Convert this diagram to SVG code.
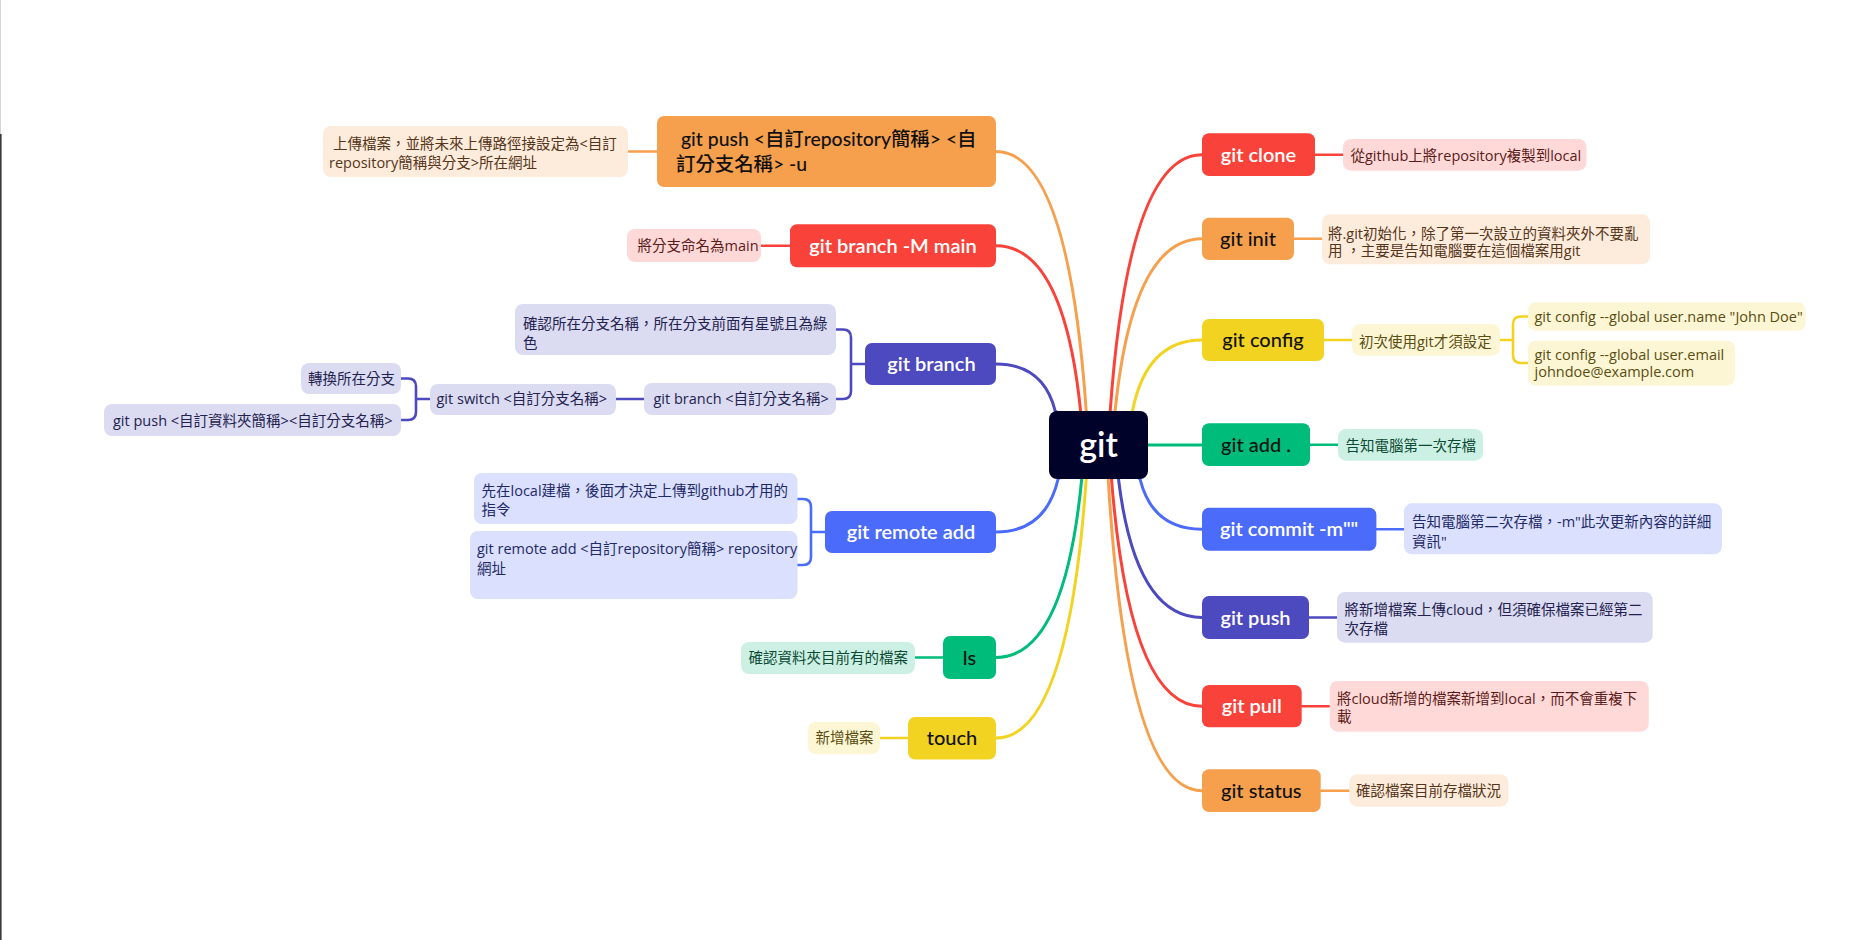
<svg xmlns="http://www.w3.org/2000/svg" width="1864" height="940" viewBox="0 0 1864 940">
<style>
.bg{fill:#ffffff}
.mt{font-family:Lato,"Noto Sans CJK TC",sans-serif;font-size:20px;text-anchor:middle}
.mtl{font-family:Lato,"Noto Sans CJK TC",sans-serif;font-size:19.4px;font-weight:500;fill:#111}
.w{fill:#ffffff;font-weight:600}
.k{fill:#111111;font-weight:500}
.lt{font-family:"Open Sans","Noto Sans CJK TC",sans-serif;font-size:14.5px}
.conn path{fill:none;stroke-width:3;stroke-linecap:round}
.sub path{fill:none;stroke-width:2.6;stroke-linecap:round;stroke-linejoin:round}
.red{fill:#F9423A}.orange{fill:#F6A04D}.yellow{fill:#F3D321}.green{fill:#00BC7B}.blue{fill:#4B6BFB}.indigo{fill:#4D49BE}
.lred{fill:#FFD9D8}.lorange{fill:#FDEBDB}.lyellow{fill:#FDF6D4}.lgreen{fill:#CCF1E4}.lblue{fill:#DAE0FE}.lindigo{fill:#DBDBF2}
.tred{fill:#5b1c19}.torange{fill:#55361a}.tyellow{fill:#5a4d12}.tgreen{fill:#0c4a34}.tblue{fill:#1f2a66}.tindigo{fill:#23224f}
.sred{stroke:#F9423A}.sorange{stroke:#F6A04D}.syellow{stroke:#F3D321}.sgreen{stroke:#00BC7B}.sblue{stroke:#4B6BFB}.sindigo{stroke:#4D49BE}
</style>
<rect class="bg" x="0" y="0" width="1864" height="940"/>
<rect x="0" y="0" width="1" height="134" fill="#d4d4d4"/>
<rect x="0" y="134" width="1.6" height="806" fill="#3a3a3a"/>

<g id="connectors">
 <g class="conn">
  <path class="sorange" d="M1098,445 L1086.2,411 Q1068.2,151.5 996,151.5"/>
  <path class="sred" d="M1098,445 L1080.6,411 Q1063.7,245.8 996,245.8"/>
  <path class="sindigo" d="M1098,445 L1055.2,411 Q1043.4,364 996,364"/>
  <path class="sblue" d="M1098,445 L1058.1,479 Q1045.7,532 996,532"/>
  <path class="sgreen" d="M1098,445 L1081.7,479 Q1064.6,657.5 996,657.5"/>
  <path class="syellow" d="M1098,445 L1086.2,479 Q1068.2,738 996,738"/>
  <path class="sred" d="M1098,445 L1110.2,411 Q1128.6,154.7 1202,154.7"/>
  <path class="sorange" d="M1098,445 L1115.1,411 Q1132.5,238.8 1202,238.8"/>
  <path class="syellow" d="M1098,445 L1132.5,411 Q1146.5,340 1202,340"/>
  <path class="sgreen" d="M1098,445 H1202"/>
  <path class="sblue" d="M1098,445 L1140,479 Q1152.4,529.2 1202,529.2"/>
  <path class="sindigo" d="M1098,445 L1118.5,479 Q1135.2,617.5 1202,617.5"/>
  <path class="sred" d="M1098,445 L1111.5,479 Q1129.6,706.2 1202,706.2"/>
  <path class="sorange" d="M1098,445 L1108.2,479 Q1127,790.7 1202,790.7"/>
 </g>
 <g class="sub">
  <path class="sorange" d="M628,151.5 H657"/>
  <path class="sred" d="M761,245.8 H790"/>
  <path class="sindigo" d="M865,364 H851 M836,329.5 H843 Q851,329.5 851,337.5 V391 Q851,399 843,399 H836"/>
  <path class="sindigo" d="M616,399 H644"/>
  <path class="sindigo" d="M430,399 H416 M401,378.5 H408 Q416,378.5 416,386.5 V412 Q416,420 408,420 H401"/>
  <path class="sblue" d="M825,532 H811 M797,499 H803 Q811,499 811,507 V557 Q811,565 803,565 H797"/>
  <path class="sgreen" d="M915,657.5 H943"/>
  <path class="syellow" d="M880,738 H908"/>
  <path class="sred" d="M1315,154.7 H1343"/>
  <path class="sorange" d="M1294,238.8 H1322"/>
  <path class="syellow" d="M1324,340 H1352"/>
  <path class="syellow" d="M1500,340 H1513 M1528,316.5 H1521 Q1513,316.5 1513,324.5 V355 Q1513,363 1521,363 H1528"/>
  <path class="sgreen" d="M1310,444.7 H1338"/>
  <path class="sblue" d="M1376,529.2 H1404"/>
  <path class="sindigo" d="M1309,617.5 H1337"/>
  <path class="sred" d="M1302,706.2 H1330"/>
  <path class="sorange" d="M1321,790.7 H1349"/>
 </g>
</g>

<g id="n-git">
 <rect x="1049" y="411" width="99" height="68" rx="8" fill="#000229"/>
 <text x="1098.5" y="457" font-family="Lato,sans-serif" font-size="34" font-weight="600" fill="#ffffff" text-anchor="middle">git</text>
</g>

<!-- left side -->
<g id="n-git-push-u">
 <rect class="orange" x="657" y="116" width="339" height="71" rx="7"/>
 <text class="mtl" x="681" y="146">git push &lt;自訂repository簡稱&gt; &lt;自</text>
 <text class="mtl" x="676" y="171">訂分支名稱&gt; -u</text>
</g>
<g id="l-git-push-u">
 <rect class="lorange" x="323" y="126" width="305" height="51" rx="8"/>
 <text class="lt torange" x="333" y="148.5">上傳檔案，並將未來上傳路徑接設定為&lt;自訂</text>
 <text class="lt torange" x="329" y="168">repository簡稱與分支&gt;所在網址</text>
</g>

<g id="n-git-branch-M">
 <rect class="red" x="790" y="224.3" width="206" height="43" rx="7"/>
 <text class="mt w" x="893" y="252.8">git branch -M main</text>
</g>
<g id="l-git-branch-M">
 <rect class="lred" x="627" y="229" width="134" height="33" rx="8"/>
 <text class="lt tred" x="637.5" y="251">將分支命名為main</text>
</g>

<g id="n-git-branch">
 <rect class="indigo" x="865" y="343" width="131" height="42" rx="7"/>
 <text class="mt w" x="931.5" y="371">git branch</text>
</g>
<g id="l-branch-confirm">
 <rect class="lindigo" x="515" y="304" width="321" height="51" rx="8"/>
 <text class="lt tindigo" x="523" y="328.5">確認所在分支名稱，所在分支前面有星號且為綠</text>
 <text class="lt tindigo" x="523" y="347.5">色</text>
</g>
<g id="l-branch-name">
 <rect class="lindigo" x="644" y="383" width="192" height="32" rx="8"/>
 <text class="lt tindigo" x="653.5" y="404">git branch &lt;自訂分支名稱&gt;</text>
</g>
<g id="l-switch">
 <rect class="lindigo" x="430" y="384" width="186" height="31" rx="8"/>
 <text class="lt tindigo" x="436.5" y="404">git switch &lt;自訂分支名稱&gt;</text>
</g>
<g id="l-switch-desc">
 <rect class="lindigo" x="301" y="363" width="100" height="31" rx="8"/>
 <text class="lt tindigo" x="308" y="384">轉換所在分支</text>
</g>
<g id="l-switch-push">
 <rect class="lindigo" x="104" y="404" width="297" height="32" rx="8"/>
 <text class="lt tindigo" x="113" y="425.5">git push &lt;自訂資料夾簡稱&gt;&lt;自訂分支名稱&gt;</text>
</g>

<g id="n-git-remote-add">
 <rect class="blue" x="825" y="511" width="171" height="42" rx="7"/>
 <text class="mt w" x="911" y="539">git remote add</text>
</g>
<g id="l-remote-desc">
 <rect class="lblue" x="474" y="473" width="323.5" height="51" rx="8"/>
 <text class="lt tblue" x="481.5" y="496">先在local建檔，後面才決定上傳到github才用的</text>
 <text class="lt tblue" x="481.5" y="515">指令</text>
</g>
<g id="l-remote-cmd">
 <rect class="lblue" x="470" y="531" width="327.5" height="68" rx="8"/>
 <text class="lt tblue" x="477" y="553.5">git remote add &lt;自訂repository簡稱&gt; repository</text>
 <text class="lt tblue" x="477" y="573.5">網址</text>
</g>

<g id="n-ls">
 <rect class="green" x="943" y="636" width="53" height="43" rx="7"/>
 <text class="mt k" x="969.5" y="665">ls</text>
</g>
<g id="l-ls">
 <rect class="lgreen" x="741" y="642" width="174" height="32" rx="8"/>
 <text class="lt tgreen" x="748.5" y="663">確認資料夾目前有的檔案</text>
</g>

<g id="n-touch">
 <rect class="yellow" x="908" y="717" width="88" height="42.5" rx="7"/>
 <text class="mt k" x="952" y="745">touch</text>
</g>
<g id="l-touch">
 <rect class="lyellow" x="808" y="722" width="72" height="32" rx="8"/>
 <text class="lt tyellow" x="815.5" y="743">新增檔案</text>
</g>

<!-- right side -->
<g id="n-git-clone">
 <rect class="red" x="1202" y="133.3" width="113" height="42.7" rx="7"/>
 <text class="mt w" x="1258.5" y="161.7">git clone</text>
</g>
<g id="l-git-clone">
 <rect class="lred" x="1343" y="139" width="243.5" height="31.7" rx="8"/>
 <text class="lt tred" x="1350.5" y="160.5">從github上將repository複製到local</text>
</g>

<g id="n-git-init">
 <rect class="orange" x="1202" y="217.7" width="92" height="42.3" rx="7"/>
 <text class="mt k" x="1248" y="245.8">git init</text>
</g>
<g id="l-git-init">
 <rect class="lorange" x="1322" y="214.3" width="328" height="50" rx="8"/>
 <text class="lt torange" x="1328" y="238.5">將.git初始化，除了第一次設立的資料夾外不要亂</text>
 <text class="lt torange" x="1328" y="256">用 ，主要是告知電腦要在這個檔案用git</text>
</g>

<g id="n-git-config">
 <rect class="yellow" x="1202" y="319" width="122" height="42" rx="7"/>
 <text class="mt k" x="1263" y="347">git config</text>
</g>
<g id="l-git-config">
 <rect class="lyellow" x="1352" y="324" width="148" height="31.7" rx="8"/>
 <text class="lt tyellow" x="1359" y="346.5">初次使用git才須設定</text>
</g>
<g id="l-config-name">
 <rect class="lyellow" x="1528" y="302.3" width="277.7" height="28.4" rx="8"/>
 <text class="lt tyellow" x="1534.5" y="322">git config --global user.name "John Doe"</text>
</g>
<g id="l-config-email">
 <rect class="lyellow" x="1528" y="340.7" width="207" height="45" rx="8"/>
 <text class="lt tyellow" x="1534.5" y="360">git config --global user.email</text>
 <text class="lt tyellow" x="1534.5" y="377">johndoe@example.com</text>
</g>

<g id="n-git-add">
 <rect class="green" x="1202" y="423.3" width="108" height="42.7" rx="7"/>
 <text class="mt k" x="1256" y="451.7">git add .</text>
</g>
<g id="l-git-add">
 <rect class="lgreen" x="1338" y="429" width="145" height="31.7" rx="8"/>
 <text class="lt tgreen" x="1345.5" y="450.5">告知電腦第一次存檔</text>
</g>

<g id="n-git-commit">
 <rect class="blue" x="1202" y="507.7" width="174.4" height="43" rx="7"/>
 <text class="mt w" x="1289.2" y="536.2">git commit -m""</text>
</g>
<g id="l-git-commit">
 <rect class="lblue" x="1404" y="503.3" width="318" height="51" rx="8"/>
 <text class="lt tblue" x="1412" y="527">告知電腦第二次存檔，-m"此次更新內容的詳細</text>
 <text class="lt tblue" x="1412" y="546.5">資訊"</text>
</g>

<g id="n-git-push">
 <rect class="indigo" x="1202" y="596" width="107" height="43" rx="7"/>
 <text class="mt w" x="1255.5" y="624.5">git push</text>
</g>
<g id="l-git-push">
 <rect class="lindigo" x="1337" y="592" width="315.7" height="50.7" rx="8"/>
 <text class="lt tindigo" x="1344.5" y="614.5">將新增檔案上傳cloud，但須確保檔案已經第二</text>
 <text class="lt tindigo" x="1344.5" y="634">次存檔</text>
</g>

<g id="n-git-pull">
 <rect class="red" x="1202" y="685" width="99.7" height="42.3" rx="7"/>
 <text class="mt w" x="1251.8" y="713.2">git pull</text>
</g>
<g id="l-git-pull">
 <rect class="lred" x="1329.7" y="681" width="319" height="50.7" rx="8"/>
 <text class="lt tred" x="1337" y="703.5">將cloud新增的檔案新增到local，而不會重複下</text>
 <text class="lt tred" x="1337" y="722">載</text>
</g>

<g id="n-git-status">
 <rect class="orange" x="1202" y="769.3" width="118.7" height="42.7" rx="7"/>
 <text class="mt k" x="1261.3" y="797.7">git status</text>
</g>
<g id="l-git-status">
 <rect class="lorange" x="1349.3" y="774.3" width="159" height="32.4" rx="8"/>
 <text class="lt torange" x="1356" y="796">確認檔案目前存檔狀況</text>
</g>
</svg>
